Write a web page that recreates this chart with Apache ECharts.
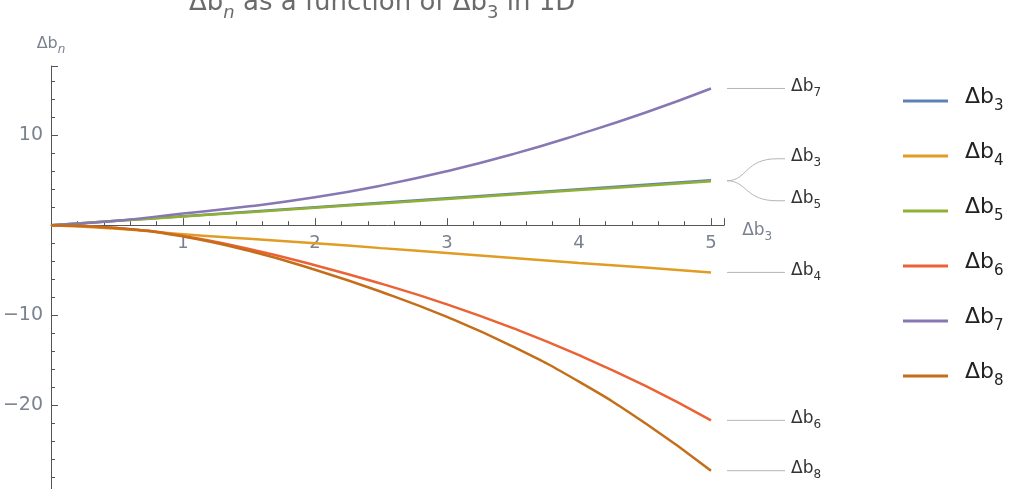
<!DOCTYPE html>
<html><head><meta charset="utf-8">
<script src="https://cdn.jsdelivr.net/npm/echarts@6/dist/echarts.min.js"></script>
<style>html,body{margin:0;padding:0;background:#fff}#c{width:1027px;height:489px}</style>
</head><body><div id="c"></div>
<script>
// ---- data ----
const xs = [0, 0.5, 1, 1.5, 2, 2.5, 3, 3.5, 4, 4.5, 5];
const seriesNames = ['Δb3', 'Δb4', 'Δb5', 'Δb6', 'Δb7', 'Δb8'];
const b3 = [0, 0.5, 1.0, 1.5, 2.0, 2.5, 3.0, 3.5, 4.0, 4.5, 5.0];
const b4 = [0, -0.4, -1.0, -1.5, -2.0, -2.55, -3.1, -3.65, -4.2, -4.7, -5.25];
const b5 = [0, 0.48, 0.97, 1.45, 1.95, 2.42, 2.92, 3.4, 3.9, 4.38, 4.88];
const b6 = [0, -0.3, -1.2, -2.65, -4.45, -6.5, -8.8, -11.45, -14.45, -17.85, -21.7];
const b7 = [0, 0.5, 1.3, 2.1, 3.1, 4.4, 6.0, 7.9, 10.1, 12.5, 15.2];
const b8 = [0, -0.3, -1.25, -2.85, -4.95, -7.4, -10.2, -13.5, -17.4, -22.0, -27.3];
const seriesValues = [b3, b4, b5, b6, b7, b8];
const xTickLabels = [1, 2, 3, 4, 5];
const yTickLabels = [10, -10, -20];
const colors = ['#5E81B5', '#E19C24', '#8FB032', '#EB6235', '#8778B3', '#C56E1A'];

const FONT = 'DejaVu Sans';
const AXIS_TXT = '#7a8290';
const chart = echarts.init(document.getElementById('c'), null, {renderer: 'canvas'});

const option = {
  backgroundColor: '#fff',
  animation: false,
  color: colors,
  title: {
    text: '{a|Δb}{s|n}{a| as a function of Δb}{t|3}{a| in 1D}',
    left: 184, top: -15,
    textStyle: {
      fontWeight: 'normal',
      rich: {
        a: {fontFamily: FONT, fontSize: 26, fontWeight: 'normal', color: '#6b6b6b', verticalAlign: 'bottom', padding: [0, 0, 6, 0]},
        s: {fontFamily: FONT, fontSize: 18, fontWeight: 'normal', color: '#6b6b6b', verticalAlign: 'bottom', fontStyle: 'italic'},
        t: {fontFamily: FONT, fontSize: 18, fontWeight: 'normal', color: '#6b6b6b', verticalAlign: 'bottom'}
      }
    }
  },
  legend: {
    orient: 'vertical', left: 898, top: 81,
    icon: 'rect', itemWidth: 45, itemHeight: 3, itemGap: 27,
    data: seriesNames,
    formatter: function (n) { return '{a|Δb}{s|' + n.slice(2) + '}'; },
    textStyle: {
      rich: {
        a: {fontFamily: FONT, fontSize: 22, color: '#222', verticalAlign: 'bottom', padding: [0, 0, 6, 12], lineHeight: 26},
        s: {fontFamily: FONT, fontSize: 15, color: '#222', verticalAlign: 'bottom', lineHeight: 20}
      }
    }
  },
  grid: {left: 51, right: 302.8, top: 66, bottom: -6, containLabel: false, outerBoundsMode: 'none'},
  xAxis: {
    type: 'value', min: 0, max: 5.1, interval: 1,
    name: '{a|Δb}{s|3}', nameLocation: 'end', nameGap: 18,
    nameTextStyle: {
      padding: [14, 0, 0, 0],
      rich: {
        a: {fontFamily: FONT, fontSize: 17, color: AXIS_TXT, verticalAlign: 'bottom', padding: [0, 0, 4, 0]},
        s: {fontFamily: FONT, fontSize: 12, color: AXIS_TXT, verticalAlign: 'bottom'}
      }
    },
    axisLine: {onZero: true, lineStyle: {color: '#555', width: 1}},
    axisTick: {inside: true, length: 7, lineStyle: {color: '#555'}},
    minorTick: {show: true, splitNumber: 5, length: 4, lineStyle: {color: '#555'}},
    splitLine: {show: false},
    axisLabel: {
      show: true, margin: 9, fontFamily: FONT, fontSize: 18, color: AXIS_TXT,
      formatter: function (v) {
        const n = Number(v);
        return (Math.abs(n - Math.round(n)) < 1e-9 && xTickLabels.indexOf(Math.round(n)) >= 0) ? String(Math.round(n)) : '';
      }
    }
  },
  yAxis: {
    type: 'value', min: -30, max: 17.7, interval: 10,
    name: '{a|Δb}{s|n}', nameLocation: 'end', nameGap: 10,
    nameTextStyle: {
      rich: {
        a: {fontFamily: FONT, fontSize: 16, color: AXIS_TXT, verticalAlign: 'bottom', padding: [0, 0, 4, 0]},
        s: {fontFamily: FONT, fontSize: 12, color: AXIS_TXT, verticalAlign: 'bottom', fontStyle: 'italic'}
      }
    },
    axisLine: {onZero: true, lineStyle: {color: '#555', width: 1}},
    axisTick: {inside: true, length: 7, lineStyle: {color: '#555'}},
    minorTick: {show: true, splitNumber: 5, length: 4, lineStyle: {color: '#555'}},
    splitLine: {show: false},
    axisLabel: {
      margin: 8, fontFamily: FONT, fontSize: 19, color: AXIS_TXT,
      formatter: function (v) { return yTickLabels.indexOf(v) >= 0 ? String(v).replace('-', '\u2212') : ''; }
    }
  },
  series: seriesNames.map(function (n, i) {
    return {
      name: n, type: 'line', smooth: true, symbol: 'none',
      lineStyle: {width: 2.5, color: colors[i]},
      itemStyle: {color: colors[i]},
      data: xs.map(function (x, k) { return [x, seriesValues[i][k]]; })
    };
  })
};
chart.setOption(option);

// ---- make sure x tick labels sit just below the zero line ----
const zeroPx = chart.convertToPixel({xAxisIndex: 0, yAxisIndex: 0}, [0, 0]);
function findText(str) {
  const list = chart.getZr().storage.getDisplayList(true);
  for (let i = 0; i < list.length; i++) {
    const el = list[i];
    if (el.style && el.style.text === str && !el.ignore && !el.invisible) {
      const r = el.getBoundingRect().clone();
      const m = el.getComputedTransform();
      if (m) r.applyTransform(m);
      return r;
    }
  }
  return null;
}
let fallbackLabels = false;
const r3 = findText('3');
if (r3) {
  const wantTop = zeroPx[1] + 9;
  if (Math.abs(r3.y - wantTop) > 3) {
    chart.setOption({xAxis: {axisLabel: {margin: 9 + (wantTop - r3.y)}}});
    const r3b = findText('3');
    if (!r3b || Math.abs(r3b.y - wantTop) > 3) {
      chart.setOption({xAxis: {axisLabel: {margin: 9 - (wantTop - r3.y)}}});
      const r3c = findText('3');
      if (!r3c || Math.abs(r3c.y - wantTop) > 3) fallbackLabels = true;
    }
  }
} else {
  fallbackLabels = true;
}

// ---- end labels with leader lines (positions from data via the axes) ----
const graphics = [];
const lastIdx = xs.length - 1;
const grayLine = '#b5b5b5';
function labelText(name) { return '{a|Δb}{s|' + name.slice(2) + '}'; }
const labelRich = {
  a: {fontFamily: FONT, fontSize: 17, fill: '#333', verticalAlign: 'bottom', padding: [0, 0, 4, 0]},
  s: {fontFamily: FONT, fontSize: 12, fill: '#333', verticalAlign: 'bottom'}
};
if (fallbackLabels) {
  chart.setOption({xAxis: {axisLabel: {show: false}}});
  xTickLabels.forEach(function (v) {
    const p = chart.convertToPixel({xAxisIndex: 0, yAxisIndex: 0}, [v, 0]);
    graphics.push({
      type: 'text', silent: true, x: p[0], y: p[1] + 9,
      style: {text: String(v), fontFamily: FONT, fontSize: 18, fill: AXIS_TXT, align: 'center', verticalAlign: 'top'}
    });
  });
}
// b3 & b5 share one end point: branch
const p3 = chart.convertToPixel({xAxisIndex: 0, yAxisIndex: 0}, [xs[lastIdx], b3[lastIdx]]);
const p5 = chart.convertToPixel({xAxisIndex: 0, yAxisIndex: 0}, [xs[lastIdx], b5[lastIdx]]);
const pm = [(p3[0] + p5[0]) / 2, (p3[1] + p5[1]) / 2];
[[0, -22], [2, 20]].forEach(function (d) {
  const idx = d[0], off = d[1];
  const x0 = pm[0] + 16, x1 = pm[0] + 74, y0 = pm[1], y1 = pm[1] + off;
  graphics.push({
    type: 'bezierCurve', silent: true,
    shape: {x1: x0, y1: y0, x2: x1 - 8, y2: y1, cpx1: x0 + 20, cpy1: y0, cpx2: x0 + 18, cpy2: y1},
    style: {stroke: grayLine, lineWidth: 1, fill: null}
  });
  graphics.push({
    type: 'line', silent: true,
    shape: {x1: x1 - 8, y1: y1, x2: x1, y2: y1},
    style: {stroke: grayLine, lineWidth: 1}
  });
  graphics.push({
    type: 'text', silent: true, x: x1 + 6, y: y1,
    style: {text: labelText(seriesNames[idx]), rich: labelRich, verticalAlign: 'middle', align: 'left'}
  });
});
[4, 1, 3, 5].forEach(function (i) {
  const p = chart.convertToPixel({xAxisIndex: 0, yAxisIndex: 0}, [xs[lastIdx], seriesValues[i][lastIdx]]);
  graphics.push({
    type: 'line', silent: true,
    shape: {x1: p[0] + 16, y1: p[1], x2: p[0] + 74, y2: p[1]},
    style: {stroke: grayLine, lineWidth: 1}
  });
  graphics.push({
    type: 'text', silent: true, x: p[0] + 80, y: p[1],
    style: {text: labelText(seriesNames[i]), rich: labelRich, verticalAlign: 'middle', align: 'left'}
  });
});
chart.setOption({graphic: graphics});
</script>
</body></html>
